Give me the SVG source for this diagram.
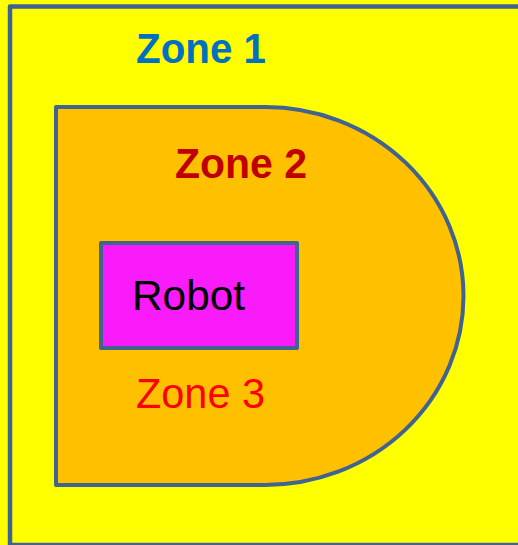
<svg xmlns="http://www.w3.org/2000/svg" width="518" height="545" viewBox="0 0 518 545">
<style>
.edge{stroke:#41638F;stroke-linejoin:round}
.t{font-family:"Liberation Sans",Arial,sans-serif;font-size:42px}
.b{font-weight:bold}
</style>
<rect width="518" height="545" fill="#FFFF00"/>
<g id="zone1">
<rect class="edge" x="10" y="6.5" width="515" height="538.5" fill="#FFFF00" stroke-width="4.5"/>
<text class="t b" x="136" y="63" fill="#0070C0" textLength="130" lengthAdjust="spacingAndGlyphs">Zone 1</text>
</g>
<g id="zone2">
<path class="edge" d="M56,107 H265 A198.5,189 0 0 1 265,485 H56 Z" fill="#FFC000" stroke-width="4"/>
<text class="t b" x="175" y="178" fill="#C00000" textLength="132" lengthAdjust="spacingAndGlyphs">Zone 2</text>
</g>
<g id="robot">
<rect class="edge" x="101" y="243" width="196" height="105" fill="#F91BF9" stroke-width="4"/>
<text class="t" x="132" y="310" fill="#000000" textLength="113" lengthAdjust="spacingAndGlyphs">Robot</text>
</g>
<g id="zone3">
<text class="t" x="136" y="408" fill="#FF0000" textLength="129" lengthAdjust="spacingAndGlyphs">Zone 3</text>
</g>
<g id="connectors"/>
</svg>
